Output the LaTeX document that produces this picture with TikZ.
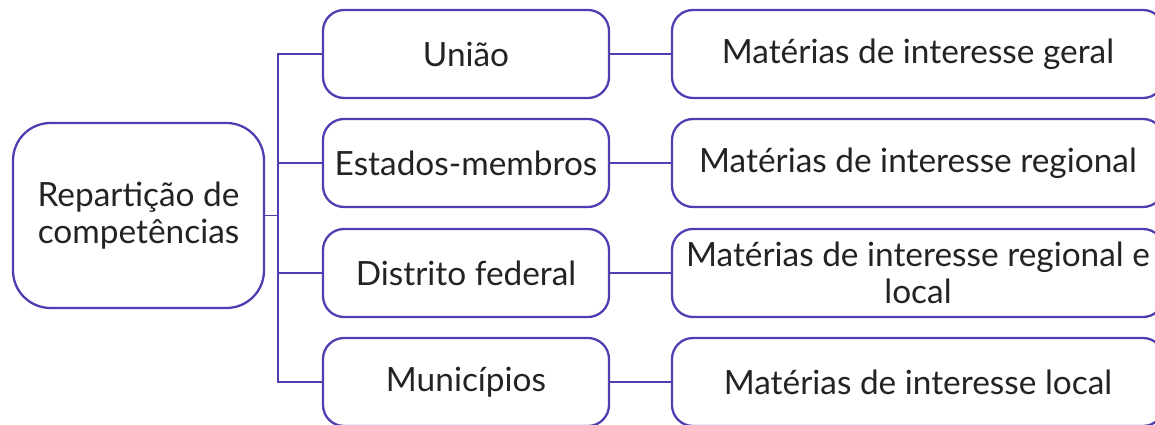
\documentclass[tikz,border=0pt]{standalone}
\usepackage{fontspec}
\setmainfont{Lato}
\usetikzlibrary{calc}
\definecolor{roxo}{RGB}{78,62,178}
\definecolor{texto}{RGB}{35,35,35}
\tikzset{
	caixa/.style={draw=roxo, line width=1.3pt, rounded corners=0.42cm, text=texto, font=\fontsize{19}{21}\selectfont, align=center, inner sep=0pt},
	raiz/.style={caixa, rounded corners=0.75cm, minimum width=5.02cm, minimum height=3.7cm},
	ente/.style={caixa, minimum width=5.72cm, minimum height=1.76cm},
	materia/.style={caixa, minimum width=9.84cm, minimum height=1.76cm},
	liga/.style={draw=roxo, line width=1.1pt}
}

\begin{document}
\begin{tikzpicture}
			%%%%% START %%%%%
			\useasboundingbox (0, 0) rectangle (23.1, -8.5);
			
			\node[raiz] (rep) at (2.77, -4.31) {Repartição de\\competências};
			
			\node[ente] (uniao) at (9.32, -1.08) {União};
			\node[ente] (estados) at (9.32, -3.26) {Estados-membros};
			\node[ente] (df) at (9.32, -5.46) {Distrito federal};
			\node[ente] (munic) at (9.32, -7.64) {Municípios};
			
			\node[materia] (geral) at (18.36, -1.08) {Matérias de interesse geral};
			\node[materia] (regional) at (18.36, -3.26) {Matérias de interesse regional};
			\node[materia] (regloc) at (18.36, -5.46) {Matérias de interesse regional e\\local};
			\node[materia] (local) at (18.36, -7.64) {Matérias de interesse local};
			
			\coordinate (tronco) at ($(rep.east)+(0.26, 0)$);
			
			\foreach \e in {uniao, estados, df, munic}
				\draw[liga] (rep.east) -- (tronco) |- (\e.west);
			
			\draw[liga] (uniao) -- (geral);
			\draw[liga] (estados) -- (regional);
			\draw[liga] (df) -- (regloc);
			\draw[liga] (munic) -- (local);
			%%%%% END %%%%%
\end{tikzpicture}
\end{document}
